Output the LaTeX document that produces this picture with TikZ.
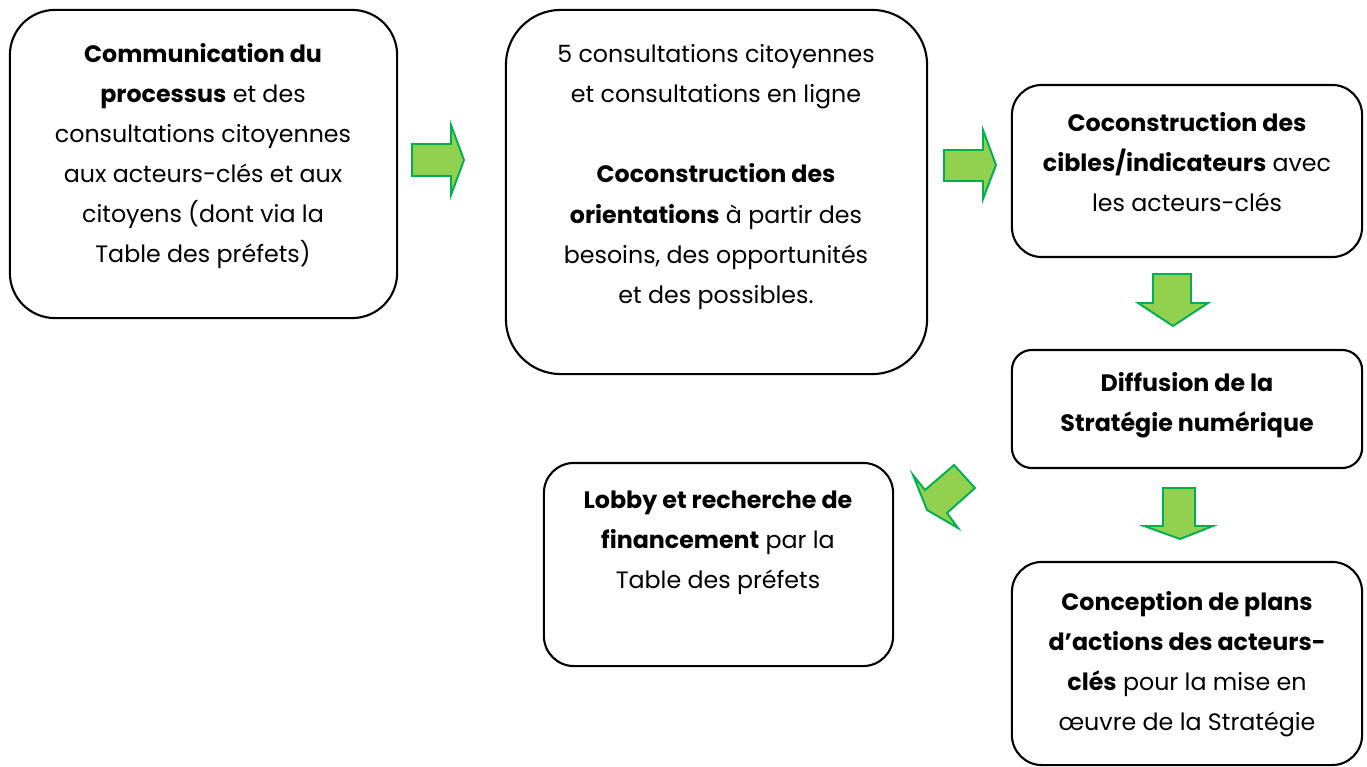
\documentclass[tikz,border=0pt]{standalone}
\usepackage{fontspec}
\setmainfont{Poppins}
\usetikzlibrary{positioning}
\usetikzlibrary{shapes,arrows}

\definecolor{pfeilgruen}{HTML}{92D050}
\definecolor{pfeilrand}{HTML}{00B050}

\tikzset{
	box/.style={draw=black,line width=0.6pt,fill=white},
	txt/.style={align=center,inner sep=0pt,font=\fontsize{6.75pt}{11.4pt}\selectfont},
	blockpfeil/.style={draw=pfeilrand,fill=pfeilgruen,line width=0.55pt,line join=miter}
}

\begin{document}
\begin{tikzpicture}[x=0.01cm,y=-0.01cm]
		\useasboundingbox (0,0) rectangle (1367,767);
		
		% Kaesten
		\node[box,rounded corners=0.45cm,minimum width=3.87cm,minimum height=3.08cm] (komm) at (203.5,164) {};
		\node[box,rounded corners=0.55cm,minimum width=4.21cm,minimum height=3.64cm] (kons) at (716.5,192) {};
		\node[box,rounded corners=0.3cm,minimum width=3.5cm,minimum height=1.72cm] (ziele) at (1187,171) {};
		\node[box,rounded corners=0.2cm,minimum width=3.5cm,minimum height=1.18cm] (diff) at (1187,409) {};
		\node[box,rounded corners=0.3cm,minimum width=3.49cm,minimum height=2.03cm] (lobby) at (718.5,564.5) {};
		\node[box,rounded corners=0.3cm,minimum width=3.5cm,minimum height=2.03cm] (plaene) at (1187,663.5) {};
		
		% Texte
		\node[txt] (kommtxt) at (203,156) {\textbf{Communication du}\\ \textbf{processus} et des\\ consultations citoyennes\\ aux acteurs-clés et aux\\ citoyens (dont via la\\ Table des préfets)};
		\node[txt] (konstxt) at (716,177) {5 consultations citoyennes\\ et consultations en ligne\\[11.4pt] \textbf{Coconstruction des}\\ \textbf{orientations} à partir des\\ besoins, des opportunités\\ et des possibles.};
		\node[txt] (zieletxt) at (1187,162) {\textbf{Coconstruction des}\\ \textbf{cibles/indicateurs} avec\\ les acteurs-clés};
		\node[txt] (difftxt) at (1187,405) {\textbf{Diffusion de la}\\ \textbf{Stratégie numérique}};
		\node[txt] (lobbytxt) at (718,543) {\textbf{Lobby et recherche de}\\ \textbf{financement} par la\\ Table des préfets};
		\node[txt] (plaenetxt) at (1187,664) {\textbf{Conception de plans}\\ \textbf{d’actions des acteurs-}\\ \textbf{clés} pour la mise en\\ œuvre de la Stratégie};
		
		% Pfeile
		\draw[blockpfeil] (412,144) -- (451,144) -- (451,125) -- (464,160) -- (451,195) -- (451,176) -- (412,176) -- cycle;
		\draw[blockpfeil] (944,150) -- (983,150) -- (983,130) -- (996,165) -- (983,199) -- (983,181) -- (944,181) -- cycle;
		\draw[blockpfeil] (1153,274) -- (1191,274) -- (1191,303) -- (1208,303) -- (1173,326) -- (1138,303) -- (1153,303) -- cycle;
		\draw[blockpfeil] (1163,488) -- (1195,488) -- (1195,526) -- (1213,526) -- (1180,539) -- (1144,526) -- (1163,526) -- cycle;
		\draw[blockpfeil] (913,475) -- (925,490) -- (954,465) -- (975,488) -- (947,513) -- (958,528) -- (927,510) -- cycle;
	\end{tikzpicture}
\end{document}
